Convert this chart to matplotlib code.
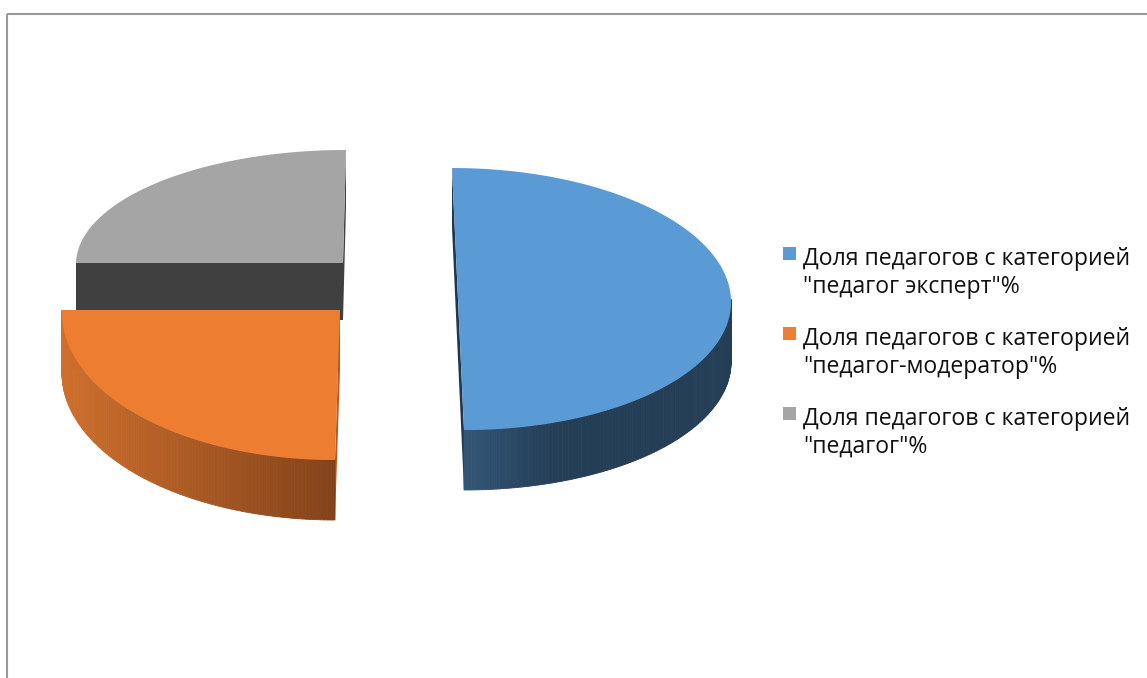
import numpy as np
import matplotlib.pyplot as plt
from matplotlib.patches import Polygon, Rectangle
from matplotlib.colors import to_rgb

labels = ['Доля педагогов с категорией\n"педагог эксперт"%',
          'Доля педагогов с категорией\n"педагог-модератор"%',
          'Доля педагогов с категорией\n"педагог"%']
values = [50, 25, 25]
top_colors = ['#5b9bd5', '#ed7d31', '#a5a5a5']

# geometry per slice (pixel space): centre, rx, ry back, ry front, height, x-skew
geom = [
    dict(c=(458, 299), rx=273, ryb=131, ryf=131, h=60, sk=6,
         side=('#345677', '#243e56'), cut='#1f3850'),
    dict(c=(340, 310), rx=278, ryb=131, ryf=150, h=60, sk=-5,
         side=('#cf6f2d', '#82431a'), cut='#b45a20'),
    dict(c=(343, 263), rx=267, ryb=113, ryf=131, h=57, sk=-3,
         side=('#404040', '#404040'), cut='#404040'),
]

W, H = 1147, 678
fig = plt.figure(figsize=(W / 100, H / 100), dpi=100)
ax = fig.add_axes([0, 0, 1, 1])
ax.set_xlim(0, W)
ax.set_ylim(H, 0)
ax.axis('off')

# chart frame
ax.add_patch(Rectangle((7, 14), W + 20, H + 20, fill=False, ec='#999999', lw=1.5))


def proj(g, th):
    th = np.radians(th)
    u, v = np.cos(th), np.sin(th)
    ry = np.where(v > 0, g['ryb'], g['ryf'])
    x = g['c'][0] + g['rx'] * u - v * g['sk']
    y = g['c'][1] - ry * v
    return x, y


def mix(c1, c2, t):
    a, b = np.array(to_rgb(c1)), np.array(to_rgb(c2))
    return tuple(a + (b - a) * np.clip(t, 0, 1))


# slice angles: start at the back (90 deg) and go clockwise
tot = sum(values)
angles = []
a0 = 90.0
for v in values:
    a1 = a0 - 360.0 * v / tot
    angles.append((a0, a1))
    a0 = a1


def draw_slice(i):
    g = geom[i]
    a0, a1 = angles[i]
    cx, cy = g['c']
    h = g['h']
    # cut faces
    for a in (a0, a1):
        x, y = proj(g, a)
        quad = [(cx, cy), (x, y), (x, y + h), (cx, cy + h)]
        ax.add_patch(Polygon(quad, closed=True, fc=g['cut'], ec='none'))
    # outer wall on the front half
    lo, hi = max(a1, -180), min(a0, 0)
    if hi > lo:
        ths = np.linspace(hi, lo, 120)
        xs, ys = proj(g, ths)
        xmin, xmax = xs.min(), xs.max()
        for k in range(len(ths) - 1):
            t = (0.5 * (xs[k] + xs[k + 1]) - xmin) / (xmax - xmin)
            if i == 0:
                t = t * 3.0
            col = mix(g['side'][0], g['side'][1], t)
            quad = [(xs[k], ys[k]), (xs[k + 1], ys[k + 1]),
                    (xs[k + 1], ys[k + 1] + h), (xs[k], ys[k] + h)]
            ax.add_patch(Polygon(quad, closed=True, fc=col, ec=col, lw=0.6))
    # top face
    ths = np.linspace(a0, a1, 200)
    xs, ys = proj(g, ths)
    pts = [(cx, cy)] + list(zip(xs, ys))
    ax.add_patch(Polygon(pts, closed=True, fc=top_colors[i], ec='none'))


for i in (2, 0, 1):
    draw_slice(i)

# legend
ly = [254, 334, 414]
for i, lab in enumerate(labels):
    ax.add_patch(Rectangle((783, ly[i] - 7), 13, 13, fc=top_colors[i], ec='none'))
    # baseline of the last line
    ax.text(803, ly[i] + 39, lab, fontsize=16.6, family='Open Sans', color='#111111',
            va='baseline', ha='left', linespacing=1.22)

fig.savefig('out.png', dpi=100)
